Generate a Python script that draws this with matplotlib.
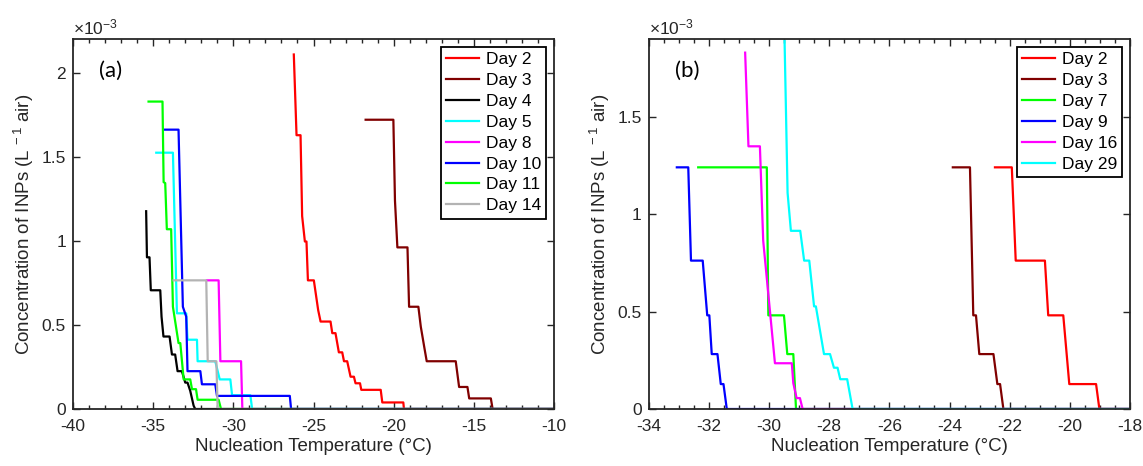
import matplotlib
matplotlib.use("Agg")
import matplotlib.pyplot as plt
from matplotlib.ticker import MultipleLocator, FuncFormatter

plt.rcParams['font.family'] = ['Liberation Sans', 'DejaVu Sans']
plt.rcParams['mathtext.fontset'] = 'custom'
plt.rcParams['mathtext.rm'] = 'Liberation Sans'
plt.rcParams['mathtext.default'] = 'regular'
plt.rcParams['axes.unicode_minus'] = False

# concentrations are in units of 1e-3 L^-1 air, temperatures in deg C

# panel (a)
a_day2_t = [-26.23, -26.06, -25.81, -25.71, -25.54, -25.44, -25.35, -24.98, -24.71, -24.56,
            -23.94, -23.83, -23.63, -23.42, -23.21, -23.10, -22.90, -22.69, -22.48, -22.38,
            -22.10, -22.02, -20.81, -20.71, -19.40, -19.36, -10]
a_day2_c = [2.108, 1.628, 1.628, 1.147, 0.996, 0.996, 0.765, 0.765, 0.588, 0.52,
            0.52, 0.451, 0.451, 0.337, 0.337, 0.284, 0.284, 0.192, 0.192, 0.153,
            0.153, 0.114, 0.114, 0.039, 0.039, 0, 0]

a_day3_t = [-21.75, -20.02, -19.92, -19.77, -19.14, -19.04, -18.46, -18.31, -18.10, -17.94,
            -16.13, -15.92, -15.40, -15.29, -13.94, -13.83, -10]
a_day3_c = [1.72, 1.72, 1.239, 0.961, 0.961, 0.608, 0.608, 0.49, 0.372, 0.284,
            0.284, 0.131, 0.131, 0.063, 0.063, 0, 0]

a_day4_t = [-35.44, -35.39, -35.23, -35.15, -34.56, -34.48, -34.36, -33.98, -33.83, -33.63,
            -33.48, -33.21, -33.00, -32.86, -32.69, -32.48, -32.38, -10]
a_day4_c = [1.176, 0.902, 0.902, 0.706, 0.706, 0.549, 0.431, 0.431, 0.324, 0.324,
            0.225, 0.225, 0.157, 0.157, 0.108, 0.02, 0, 0]

a_day5_t = [-34.81, -33.77, -33.52, -32.94, -32.86, -32.27, -32.23, -31.13, -30.85, -30.19,
            -30.08, -28.94, -28.83, -10]
a_day5_c = [1.524, 1.524, 0.569, 0.569, 0.412, 0.412, 0.284, 0.284, 0.176, 0.176,
            0.082, 0.082, 0, 0]

a_day8_t = [-31.65, -30.92, -30.81, -29.52, -29.44, -10]
a_day8_c = [0.765, 0.765, 0.284, 0.284, 0, 0]

a_day10_t = [-34.31, -33.42, -33.15, -32.94, -32.86, -32.06, -31.96, -31.13, -31.02, -26.48,
             -26.40, -10]
a_day10_c = [1.661, 1.661, 0.608, 0.549, 0.225, 0.225, 0.147, 0.147, 0.078, 0.078, 0, 0]

a_day11_t = [-35.29, -34.42, -34.35, -34.25, -34.15, -33.88, -33.77, -33.42, -33.31, -33.10,
             -32.69, -32.58, -32.33, -32.23, -30.92, -30.77, -10]
a_day11_c = [1.828, 1.828, 1.349, 1.343, 1.069, 1.069, 0.608, 0.392, 0.392, 0.176,
             0.176, 0.118, 0.118, 0.055, 0.055, 0, 0]

a_day14_t = [-33.73, -31.69, -31.60, -31.06, -30.98, -10]
a_day14_c = [0.765, 0.765, 0.284, 0.284, 0, 0]

# panel (b)
b_day2_t = [-22.49, -21.93, -21.80, -20.83, -20.72, -20.22, -20.02, -19.13, -19.02, -18]
b_day2_c = [1.241, 1.241, 0.762, 0.762, 0.481, 0.481, 0.128, 0.128, 0, 0]

b_day3_t = [-23.89, -23.32, -23.21, -23.12, -23.01, -22.54, -22.41, -22.32, -22.21, -18]
b_day3_c = [1.241, 1.241, 0.481, 0.481, 0.282, 0.282, 0.128, 0.128, 0, 0]

b_day7_t = [-32.35, -30.07, -30.02, -29.50, -29.39, -29.19, -29.10, -18]
b_day7_c = [1.241, 1.241, 0.481, 0.481, 0.282, 0.282, 0, 0]

b_day9_t = [-33.06, -32.68, -32.59, -32.20, -32.05, -31.98, -31.90, -31.71, -31.60, -31.51,
            -31.40, -18]
b_day9_c = [1.241, 1.241, 0.762, 0.762, 0.481, 0.481, 0.282, 0.282, 0.128, 0.128, 0, 0]

b_day16_t = [-30.79, -30.68, -30.30, -30.19, -29.80, -29.24, -29.19, -29.08, -28.97, -28.88, -18]
b_day16_c = [1.83, 1.349, 1.349, 0.864, 0.235, 0.235, 0.133, 0.056, 0.056, 0, 0]

b_day29_t = [-29.48, -29.38, -29.27, -28.96, -28.83, -28.66, -28.50, -28.44, -28.17, -27.97,
             -27.84, -27.72, -27.63, -27.40, -27.22, -18]
b_day29_c = [1.89, 1.11, 0.915, 0.915, 0.762, 0.762, 0.527, 0.527, 0.282, 0.282,
             0.212, 0.212, 0.153, 0.153, 0, 0]

RED = '#ff0000'
BROWN = '#800000'
GREEN = '#00ff00'
BLUE = '#0000ff'
MAGENTA = '#ff00ff'
CYAN = '#00ffff'
GREY = '#b3b3b3'
AX = '#262626'

series_a = [(a_day2_t, a_day2_c, RED, 'Day 2'),
            (a_day3_t, a_day3_c, BROWN, 'Day 3'),
            (a_day4_t, a_day4_c, 'k', 'Day 4'),
            (a_day5_t, a_day5_c, CYAN, 'Day 5'),
            (a_day8_t, a_day8_c, MAGENTA, 'Day 8'),
            (a_day10_t, a_day10_c, BLUE, 'Day 10'),
            (a_day11_t, a_day11_c, GREEN, 'Day 11'),
            (a_day14_t, a_day14_c, GREY, 'Day 14')]

series_b = [(b_day2_t, b_day2_c, RED, 'Day 2'),
            (b_day3_t, b_day3_c, BROWN, 'Day 3'),
            (b_day7_t, b_day7_c, GREEN, 'Day 7'),
            (b_day9_t, b_day9_c, BLUE, 'Day 9'),
            (b_day16_t, b_day16_c, MAGENTA, 'Day 16'),
            (b_day29_t, b_day29_c, CYAN, 'Day 29')]

fig = plt.figure(figsize=(11.43, 4.66), dpi=100)
ax1 = fig.add_axes([0.0639, 0.1223, 0.4208, 0.794])
ax2 = fig.add_axes([0.5674, 0.1223, 0.4213, 0.794])


def style_axes(ax, xlim, ylim, xmaj, xmin, ymaj, panel):
    ax.set_xlim(*xlim)
    ax.set_ylim(ylim[0] * 1e-3, ylim[1] * 1e-3)
    ax.xaxis.set_major_locator(MultipleLocator(xmaj))
    ax.xaxis.set_minor_locator(MultipleLocator(xmin))
    ax.yaxis.set_major_locator(MultipleLocator(ymaj * 1e-3))
    ax.yaxis.set_major_formatter(FuncFormatter(lambda v, p: f"{v * 1e3:g}"))
    ax.tick_params(which='both', direction='in', top=True, right=True,
                   color=AX, labelcolor=AX, labelsize=12.5, width=1)
    ax.tick_params(which='major', length=5)
    ax.tick_params(which='minor', length=3)
    ax.tick_params(axis='x', which='both', pad=7)
    ax.tick_params(axis='y', which='both', pad=5)
    for s in ax.spines.values():
        s.set_color(AX)
        s.set_linewidth(1.3)
    ax.set_xlabel('Nucleation Temperature (°C)', fontsize=13.5, color=AX, labelpad=3)
    ax.set_ylabel('Concentration of INPs (L$^{\\,-1}$ air)', fontsize=13.5, color=AX, labelpad=4)
    ax.text(0.0, 1.004, '×10$^{-3}$', transform=ax.transAxes, ha='left', va='bottom',
            fontsize=12.5, color=AX)
    ax.text(0.055, 0.915, panel, transform=ax.transAxes, ha='left', va='center',
            fontsize=16, family='Lato', color='k')
    leg = ax.legend(loc='upper right', fontsize=12.5, fancybox=False, framealpha=1,
                    edgecolor='k', handlelength=1.9, labelspacing=0.33,
                    borderaxespad=0.45, borderpad=0.3, handletextpad=0.4)
    leg.get_frame().set_linewidth(1.3)


for t, c, col, lab in series_a:
    ax1.plot(t, [v * 1e-3 for v in c], color=col, lw=1.6, label=lab)
for t, c, col, lab in series_b:
    ax2.plot(t, [v * 1e-3 for v in c], color=col, lw=1.6, label=lab)

style_axes(ax1, (-40, -10), (0, 2.2), 5, 1, 0.5, '(a)')
style_axes(ax2, (-34, -18), (0, 1.9), 2, 0.5, 0.5, '(b)')

fig.savefig('out.png', dpi=100)
